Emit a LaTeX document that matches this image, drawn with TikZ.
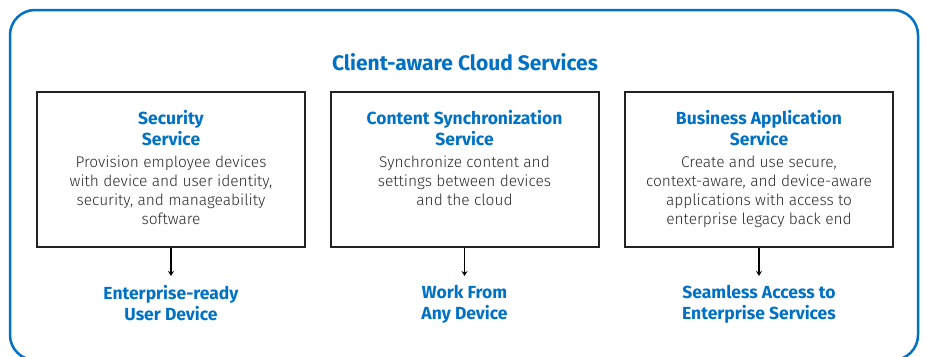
\documentclass[tikz,border=0pt]{standalone}
\usepackage{fontspec}
\setmainfont{Fira Sans}
\newfontfamily\lightfont{Fira Sans Light}
\usetikzlibrary{arrows.meta}
\definecolor{cblue}{HTML}{0071C5}
\definecolor{ctext}{HTML}{2A2A2A}
\definecolor{cframe}{HTML}{222222}
\tikzset{
  svcbox/.style={draw=cframe, line width=2pt, minimum width=268pt, minimum height=155pt, inner sep=0pt},
  head/.style={font=\fontsize{17.5}{21}\selectfont\bfseries, text=cblue, align=center},
  body/.style={font=\lightfont\fontsize{15.5}{19}\selectfont, text=ctext, align=center},
  result/.style={font=\fontsize{17.5}{21}\selectfont\bfseries, text=cblue, align=center},
  flow/.style={draw=black, line width=1.5pt, -{Stealth[length=5pt,width=6pt]}}
}
\begin{document}
\begin{tikzpicture}[x=1pt,y=-1pt]
\useasboundingbox (0,0) rectangle (925,356);
\begin{scope}
  \clip (0,0) rectangle (925,356);
  \draw[cblue, line width=2.5pt, rounded corners=25pt] (10,10) rectangle (918,360);
\end{scope}

\node[font=\fontsize{21}{25}\selectfont\bfseries, text=cblue] (title) at (465,62) {Client-aware Cloud Services};

% three service boxes
\node[svcbox] (b1) at (171,169.5) {};
\node[svcbox] (b2) at (464.5,169.5) {};
\node[svcbox] (b3) at (759,169.5) {};

\node[head, anchor=north] (h1) at (171,107) {Security\\Service};
\node[head, anchor=north] (h2) at (464.5,107) {Content Synchronization\\Service};
\node[head, anchor=north] (h3) at (759,107) {Business Application\\Service};

\node[body, anchor=north, yshift=-3pt] (t1) at (h1.south) {Provision employee devices\\with device and user identity,\\security, and manageability\\software};
\node[body, anchor=north, yshift=-3pt] (t2) at (h2.south) {Synchronize content and\\settings between devices\\and the cloud};
\node[body, anchor=north, yshift=-3pt] (t3) at (h3.south) {Create and use secure,\\context-aware, and device-aware\\applications with access to\\enterprise legacy back end};

% outcomes
\node[result, anchor=north] (r1) at (171,282) {Enterprise-ready\\User Device};
\node[result, anchor=north] (r2) at (464.5,282) {Work From\\Any Device};
\node[result, anchor=north] (r3) at (759,282) {Seamless Access to\\Enterprise Services};

\draw[flow] (b1.south) -- ++(0,28);
\draw[flow] (b2.south) -- ++(0,28);
\draw[flow] (b3.south) -- ++(0,28);
\end{tikzpicture}
\end{document}
